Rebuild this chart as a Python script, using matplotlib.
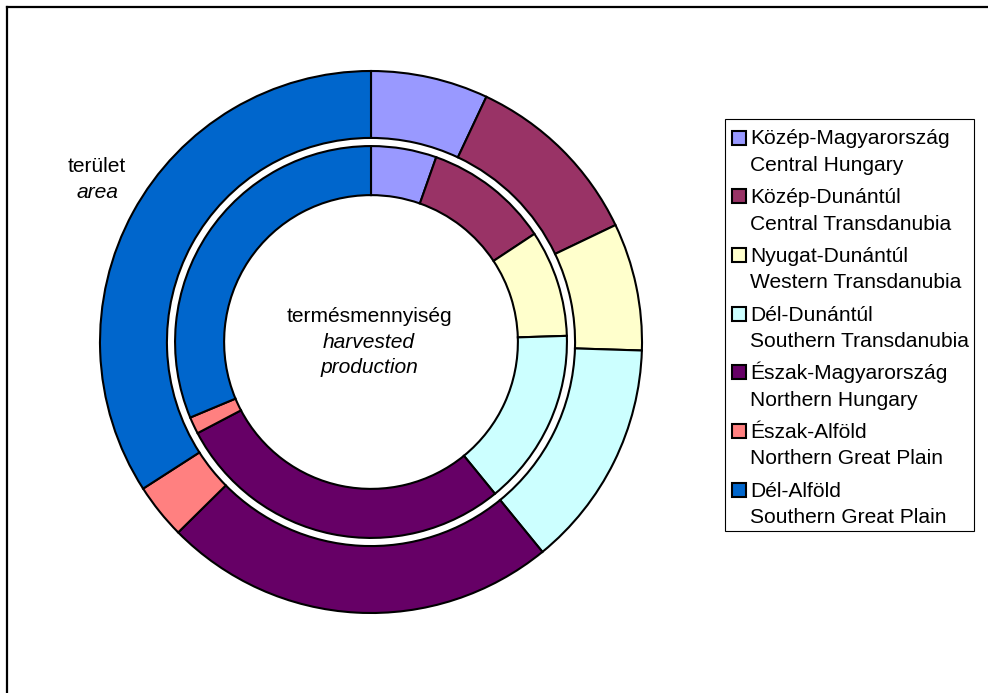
import matplotlib
matplotlib.use('Agg')
import matplotlib.pyplot as plt
from matplotlib.lines import Line2D
from matplotlib.patches import Rectangle

plt.rcParams['font.family'] = ['Liberation Sans', 'DejaVu Sans']

W, H = 988, 693

regions_hu = ['Közép-Magyarország', 'Közép-Dunántúl', 'Nyugat-Dunántúl', 'Dél-Dunántúl',
              'Észak-Magyarország', 'Észak-Alföld', 'Dél-Alföld']
regions_en = ['Central Hungary', 'Central Transdanubia', 'Western Transdanubia',
              'Southern Transdanubia', 'Northern Hungary', 'Northern Great Plain',
              'Southern Great Plain']
colors = ['#9999FF', '#993366', '#FFFFCC', '#CCFFFF', '#660066', '#FF8080', '#0066CC']

# shares in percent
area_share = [7.0, 10.9, 7.6, 13.6, 23.5, 3.3, 34.1]        # outer ring
production_share = [5.4, 10.3, 8.8, 14.6, 28.2, 1.4, 31.3]  # inner ring


def px(x, y):
    """pixel coords (from top-left) -> figure fraction"""
    return x / W, 1 - y / H


fig = plt.figure(figsize=(W / 100, H / 100), dpi=100)

# pie centre at (371, 342), outer radius 271 px
cx, cy, r = 371, 342, 271
ax = fig.add_axes([(cx - r) / W, (H - cy - r) / H, 2 * r / W, 2 * r / H])
wp = dict(edgecolor='black', linewidth=1.5)
ax.pie(area_share, radius=1.0, startangle=90, counterclock=False, colors=colors,
       wedgeprops=dict(width=0.247, **wp))
ax.pie(production_share, radius=0.723, startangle=90, counterclock=False, colors=colors,
       wedgeprops=dict(width=0.181, **wp))
ax.set_xlim(-1, 1)
ax.set_ylim(-1, 1)
ax.set_aspect('equal')
ax.axis('off')

fs = 15.1
# ring labels
fig.text(*px(369, 322), 'termésmennyiség', ha='center', va='baseline', fontsize=fs)
fig.text(*px(369, 347.5), 'harvested', ha='center', va='baseline', fontsize=fs, style='italic')
fig.text(*px(369, 373), 'production', ha='center', va='baseline', fontsize=fs, style='italic')
fig.text(*px(97, 172), 'terület', ha='center', va='baseline', fontsize=fs)
fig.text(*px(97, 198), 'area', ha='center', va='baseline', fontsize=fs, style='italic')

# legend box
bx0, by0, bx1, by1 = 724.5, 118.5, 973.5, 530.5
fig.add_artist(Rectangle(px(bx0, by1), (bx1 - bx0) / W, (by1 - by0) / H,
                         transform=fig.transFigure, facecolor='none',
                         edgecolor='black', linewidth=0.8))
sq = 14
for i, (hu, en, c) in enumerate(zip(regions_hu, regions_en, colors)):
    base = 144.5 + 58.7 * i
    fig.add_artist(Rectangle(px(732, base - 7 + sq / 2), sq / W, sq / H,
                             transform=fig.transFigure, facecolor=c,
                             edgecolor='black', linewidth=1.5))
    fig.text(*px(750.5, base), hu, ha='left', va='baseline', fontsize=fs)
    fig.text(*px(750.5, base + 26.3), en, ha='left', va='baseline', fontsize=fs)

# chart frame (left and top edges)
fig.add_artist(Line2D([7 / W, 7 / W], [0, 1 - 7 / H], transform=fig.transFigure,
                      color='black', linewidth=1.6))
fig.add_artist(Line2D([7 / W, 1], [1 - 7 / H, 1 - 7 / H], transform=fig.transFigure,
                      color='black', linewidth=1.6))

fig.savefig('out.png', dpi=100)
